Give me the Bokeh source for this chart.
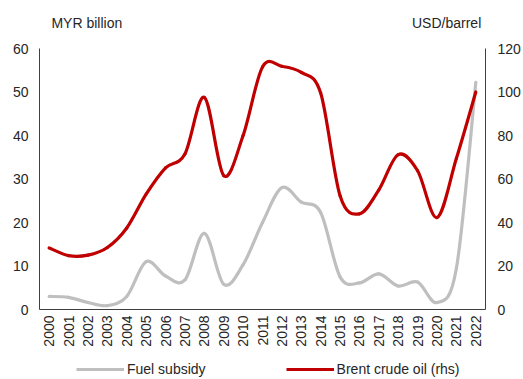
import numpy as np
from bokeh.plotting import figure
from bokeh.layouts import column
from bokeh.models import (Range1d, LinearAxis, FixedTicker, SingleIntervalTicker,
                          Legend, LegendItem, ColumnDataSource, Label)
from bokeh.embed import file_html
from bokeh.resources import INLINE

years = list(range(2000, 2023))
fuel_subsidy = [3.0, 2.8, 1.6, 0.9, 3.0, 11.0, 7.7, 6.8, 17.5, 5.8, 10.3, 20.0,
                28.0, 24.7, 22.3, 7.5, 6.1, 8.2, 5.4, 6.3, 1.6, 9.5, 52.2]
brent = [28.3, 24.8, 25.0, 28.5, 37.5, 53.0, 65.1, 71.5, 97.5, 61.6, 80.0, 111.5,
         111.8, 109.0, 99.5, 52.3, 44.0, 55.0, 71.2, 63.8, 42.3, 69.5, 100.0]
left_label = "MYR billion"
right_label = "USD/barrel"
series_names = ["Fuel subsidy", "Brent crude oil (rhs)"]
colors = ["#BFBFBF", "#C00000"]

FONT = "Liberation Sans"
FS = "14px"
TXT = "#262626"
AX = "#404040"
W = 523


def smooth_source(xs, ys):
    """Bezier segments (Catmull-Rom style, like spreadsheet smoothed lines)."""
    xs = np.asarray(xs, float)
    ys = np.asarray(ys, float)
    n = len(xs)
    d = dict(x0=[], y0=[], x1=[], y1=[], cx0=[], cy0=[], cx1=[], cy1=[])
    for i in range(n - 1):
        i0 = max(i - 1, 0)
        i3 = min(i + 2, n - 1)
        d["x0"].append(xs[i]); d["y0"].append(ys[i])
        d["x1"].append(xs[i + 1]); d["y1"].append(ys[i + 1])
        d["cx0"].append(xs[i] + (xs[i + 1] - xs[i0]) / 6)
        d["cy0"].append(ys[i] + (ys[i + 1] - ys[i0]) / 6)
        d["cx1"].append(xs[i + 1] - (xs[i3] - xs[i]) / 6)
        d["cy1"].append(ys[i + 1] - (ys[i3] - ys[i]) / 6)
    return ColumnDataSource(d)


def blank_fig(h):
    f = figure(width=W, height=h, output_backend="svg", toolbar_location=None,
               tools="", x_axis_location=None, y_axis_location=None,
               x_range=Range1d(0, W), y_range=Range1d(0, h),
               min_border=0)
    f.outline_line_color = None
    f.grid.visible = False
    f.background_fill_color = "white"
    f.border_fill_color = "white"
    return f


xpos = list(range(len(years)))

# ---------- top strip: axis unit texts ----------
TOP_H = 34
top = blank_fig(TOP_H)
top.add_layout(Label(x=14, y=TOP_H - 22, text=left_label, text_font=FONT,
                     text_font_size=FS, text_color=TXT,
                     text_baseline="middle", text_align="left"))
top.add_layout(Label(x=518, y=TOP_H - 22, text=right_label, text_font=FONT,
                     text_font_size=FS, text_color=TXT,
                     text_baseline="middle", text_align="right"))

# ---------- main chart ----------
p = figure(width=W, height=315, output_backend="svg", toolbar_location=None,
           x_range=Range1d(-0.5, len(years) - 0.5), y_range=Range1d(0, 60),
           min_border_left=39, min_border_right=38, min_border_top=14,
           min_border_bottom=38, tools="")
p.extra_y_ranges = {"brent": Range1d(0, 120)}
p.outline_line_color = None
p.xgrid.visible = False
p.ygrid.visible = False
p.background_fill_color = "white"
p.border_fill_color = "white"

axis_style = dict(axis_line_color=AX, axis_line_width=1,
                  major_tick_line_color=None, minor_tick_line_color=None,
                  major_tick_out=0, major_tick_in=0, minor_tick_out=0,
                  minor_tick_in=0, major_label_text_font=FONT,
                  major_label_text_font_size=FS, major_label_text_color=TXT)

p.yaxis[0].update(**axis_style)
p.yaxis[0].ticker = SingleIntervalTicker(interval=10)
p.yaxis[0].major_label_standoff = 11

p.xaxis[0].update(**axis_style)
p.xaxis[0].ticker = FixedTicker(ticks=xpos)
p.xaxis[0].major_label_overrides = {i: str(y) for i, y in zip(xpos, years)}
p.xaxis[0].major_label_orientation = np.pi / 2
p.xaxis[0].major_label_standoff = 6

rax = LinearAxis(y_range_name="brent", ticker=SingleIntervalTicker(interval=20),
                 major_label_standoff=12, **axis_style)
p.add_layout(rax, "right")

src_f = smooth_source(xpos, fuel_subsidy)
src_b = smooth_source(xpos, brent)
line_style = dict(line_width=3.2, line_cap="round", line_join="round")
p.bezier(x0="x0", y0="y0", x1="x1", y1="y1", cx0="cx0", cy0="cy0",
         cx1="cx1", cy1="cy1", source=src_f, line_color=colors[0], **line_style)
p.bezier(x0="x0", y0="y0", x1="x1", y1="y1", cx0="cx0", cy0="cy0",
         cx1="cx1", cy1="cy1", source=src_b, line_color=colors[1],
         y_range_name="brent", **line_style)

# ---------- bottom strip: legend ----------
BOT_H = 30
bot = blank_fig(BOT_H)
# key renderers carry the series styling; their data sit on a range that
# is out of view so only the legend samples are visible
bot.extra_y_ranges = {"off": Range1d(-1000, -999)}
keys = [bot.line(x=xpos, y=vals, y_range_name="off", line_color=c,
                 line_width=3.2)
        for vals, c in zip([fuel_subsidy, brent], colors)]
lg = Legend(items=[LegendItem(label=n, renderers=[k])
                   for n, k in zip(series_names, keys)],
            location=(37, 2), orientation="horizontal",
            glyph_width=48, glyph_height=14, label_standoff=3,
            spacing=80, border_line_color=None, background_fill_alpha=0,
            label_text_font=FONT, label_text_font_size=FS,
            label_text_color=TXT, label_height=14, padding=0, margin=0)
bot.add_layout(lg)

layout = column(top, p, bot, spacing=0)
open("out.html", "w").write(file_html(layout, INLINE))
